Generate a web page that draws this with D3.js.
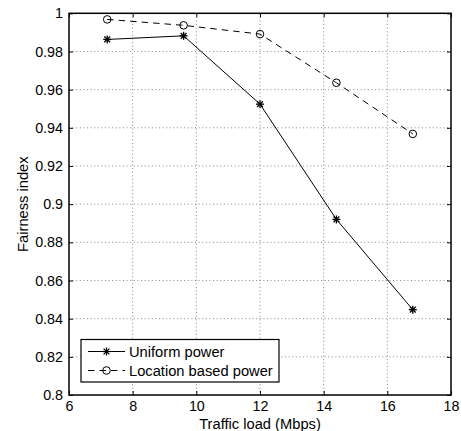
<!DOCTYPE html>
<html>
<head>
<meta charset="utf-8">
<script src="https://cdn.jsdelivr.net/npm/d3@7"></script>
<style>
  html, body { margin: 0; padding: 0; background: #fff; }
  svg { display: block; font-family: "Liberation Sans", Arial, Helvetica, sans-serif; }
</style>
</head>
<body>
<svg id="chart" width="461" height="431"></svg>
<script>
// Traffic load (Mbps) on the x axis
const trafficLoad = [7.2, 9.6, 12, 14.4, 16.8];
// Fairness index per scheme
const uniformPower = [0.9863, 0.9882, 0.9524, 0.8920, 0.8447];
const locationPower = [0.9968, 0.9937, 0.9891, 0.9636, 0.9368];
// Tick labels
const xTicks = [6, 8, 10, 12, 14, 16, 18];
const yTicks = [0.8, 0.82, 0.84, 0.86, 0.88, 0.9, 0.92, 0.94, 0.96, 0.98, 1];
const seriesNames = ["Uniform power", "Location based power"];

const svg = d3.select("#chart");
const pLeft = 69, pRight = 451, pTop = 13.3, pBottom = 395;

const x = d3.scaleLinear().domain([6, 18]).range([pLeft, pRight]);
const y = d3.scaleLinear().domain([0.8, 1]).range([pBottom, pTop]);

const fmtY = d => d3.format("~g")(+d.toFixed(2));

// dotted grid
const grid = svg.append("g").attr("stroke", "#555").attr("stroke-width", 0.7)
  .attr("stroke-dasharray", "1,2.6");
xTicks.slice(1, -1).forEach(t => {
  grid.append("line").attr("x1", x(t)).attr("x2", x(t)).attr("y1", pTop).attr("y2", pBottom);
});
yTicks.slice(1, -1).forEach(t => {
  grid.append("line").attr("x1", pLeft).attr("x2", pRight).attr("y1", y(t)).attr("y2", y(t));
});

// axes with inward ticks on all sides
const tl = 4;
const ax = svg.append("g");
ax.append("g").attr("transform", `translate(0,${pBottom})`)
  .call(d3.axisBottom(x).tickValues(xTicks).tickSize(-tl).tickPadding(6).tickFormat(d3.format("d")));
ax.append("g").attr("transform", `translate(0,${pTop})`)
  .call(d3.axisTop(x).tickValues(xTicks).tickSize(-tl).tickFormat(""));
ax.append("g").attr("transform", `translate(${pLeft},0)`)
  .call(d3.axisLeft(y).tickValues(yTicks).tickSize(-tl).tickPadding(6).tickFormat(fmtY));
ax.append("g").attr("transform", `translate(${pRight},0)`)
  .call(d3.axisRight(y).tickValues(yTicks).tickSize(-tl).tickFormat(""));
ax.selectAll(".domain").remove();
ax.selectAll(".tick line").attr("stroke", "#000").attr("stroke-width", 1);
ax.selectAll(".tick text").attr("fill", "#000").attr("font-size", 14.3)
  .attr("font-family", "Liberation Sans, Arial, sans-serif");

// frame
svg.append("rect").attr("x", pLeft).attr("y", pTop)
  .attr("width", pRight - pLeft).attr("height", pBottom - pTop)
  .attr("fill", "none").attr("stroke", "#000").attr("stroke-width", 1.5);

// series lines
const line = d3.line().x((d, i) => x(trafficLoad[i])).y(d => y(d));
svg.append("path").datum(uniformPower).attr("d", line)
  .attr("fill", "none").attr("stroke", "#000").attr("stroke-width", 1);
svg.append("path").datum(locationPower).attr("d", line)
  .attr("fill", "none").attr("stroke", "#000").attr("stroke-width", 1)
  .attr("stroke-dasharray", "6.5,5");

// markers
function star(g, cx, cy, r) {
  const s = g.append("g").attr("stroke", "#000").attr("stroke-width", 1.3);
  s.append("line").attr("x1", cx - r).attr("x2", cx + r).attr("y1", cy).attr("y2", cy);
  s.append("line").attr("x1", cx).attr("x2", cx).attr("y1", cy - r).attr("y2", cy + r);
  const q = r * 0.72;
  s.append("line").attr("x1", cx - q).attr("x2", cx + q).attr("y1", cy - q).attr("y2", cy + q);
  s.append("line").attr("x1", cx - q).attr("x2", cx + q).attr("y1", cy + q).attr("y2", cy - q);
}
function circ(g, cx, cy, r) {
  g.append("circle").attr("cx", cx).attr("cy", cy).attr("r", r)
    .attr("fill", "none").attr("stroke", "#000").attr("stroke-width", 1);
}
const mk = svg.append("g");
uniformPower.forEach((v, i) => star(mk, x(trafficLoad[i]), y(v), 4));
locationPower.forEach((v, i) => circ(mk, x(trafficLoad[i]), y(v), 3.8));

// axis titles
svg.append("text").attr("x", (pLeft + pRight) / 2).attr("y", 428.5)
  .attr("text-anchor", "middle").attr("font-size", 14.7).text("Traffic load (Mbps)");
svg.append("text").attr("transform", `translate(28,${(pTop + pBottom) / 2}) rotate(-90)`)
  .attr("text-anchor", "middle").attr("font-size", 14.7).text("Fairness index");

// legend
const lg = svg.append("g");
lg.append("rect").attr("x", 81).attr("y", 339.5).attr("width", 198).attr("height", 42.5)
  .attr("fill", "#fff").attr("stroke", "#000").attr("stroke-width", 1.2);
const rows = [351.5, 370.5];
lg.append("line").attr("x1", 88).attr("x2", 125).attr("y1", rows[0]).attr("y2", rows[0])
  .attr("stroke", "#000").attr("stroke-width", 1);
star(lg, 106.5, rows[0], 4);
lg.append("line").attr("x1", 88).attr("x2", 125).attr("y1", rows[1]).attr("y2", rows[1])
  .attr("stroke", "#000").attr("stroke-width", 1).attr("stroke-dasharray", "6.5,5");
circ(lg, 106.5, rows[1], 3.8);
seriesNames.forEach((n, i) => {
  lg.append("text").attr("x", 129).attr("y", rows[i]).attr("dy", "0.36em")
    .attr("font-size", 14.7).text(n);
});
</script>
</body>
</html>
